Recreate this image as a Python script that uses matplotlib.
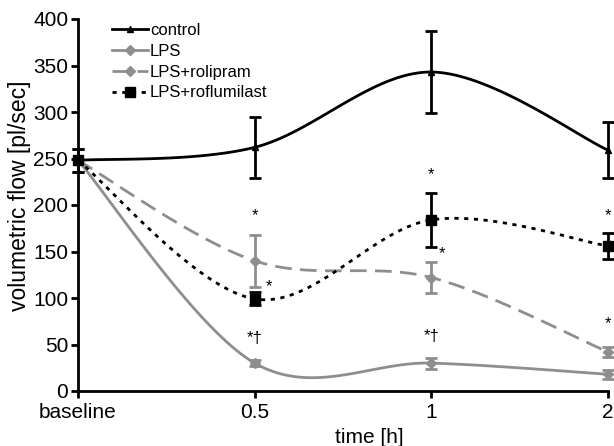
import numpy as np
import matplotlib
matplotlib.use('Agg')
import matplotlib.pyplot as plt

plt.rcParams['font.family'] = ['Liberation Sans', 'DejaVu Sans']

# data
time_labels = ['baseline', '0.5', '1', '2']
control = [248, 262, 343, 259]
control_err = [12, 33, 44, 30]
lps = [248, 30, 30, 18]
lps_err = [12, 3, 6, 5]
rolipram = [248, 140, 122, 42]
rolipram_err = [12, 28, 17, 5]
roflumilast = [248, 99, 184, 156]
roflumilast_err = [12, 7, 29, 14]

GRAY = '#8e8e8e'


# Excel-like smoothed line (bezier through the points)
def smooth(x, y, n=40):
    x = np.asarray(x, float)
    y = np.asarray(y, float)
    px = np.concatenate([[x[0]], x, [x[-1]]])
    py = np.concatenate([[y[0]], y, [y[-1]]])
    xs, ys = [], []
    t = np.linspace(0, 1, n)
    for i in range(1, len(px) - 2):
        p0 = np.array([px[i], py[i]])
        p3 = np.array([px[i + 1], py[i + 1]])
        p1 = p0 + (np.array([px[i + 1], py[i + 1]]) - np.array([px[i - 1], py[i - 1]])) / 6
        p2 = p3 - (np.array([px[i + 2], py[i + 2]]) - np.array([px[i], py[i]])) / 6
        b = ((1 - t) ** 3)[:, None] * p0 + (3 * (1 - t) ** 2 * t)[:, None] * p1 \
            + (3 * (1 - t) * t ** 2)[:, None] * p2 + (t ** 3)[:, None] * p3
        xs.extend(b[:, 0])
        ys.extend(b[:, 1])
    return xs, ys


fig = plt.figure(figsize=(6.14, 4.46), dpi=100)
ax = fig.add_axes([78 / 614, 55 / 446, 530 / 614, 372 / 446])

x = np.arange(len(time_labels))

series = [
    (control, control_err, 'k', '-', '^', 'control'),
    (lps, lps_err, GRAY, '-', 'D', 'LPS'),
    (rolipram, rolipram_err, GRAY, (0, (6, 3)), 'D', 'LPS+rolipram'),
    (roflumilast, roflumilast_err, 'k', (0, (1.5, 2)), 's', 'LPS+roflumilast'),
]

for vals, err, col, ls, mk, lab in series:
    sx, sy = smooth(x, vals)
    ax.plot(sx, sy, color=col, ls=ls, lw=2, clip_on=False)
    ms = 7 if mk == 's' else 5
    ax.errorbar(x, vals, yerr=err, fmt=mk, color=col, ms=ms, elinewidth=2,
                capsize=4, capthick=2, clip_on=False)
    ax.plot([], [], color=col, ls=ls, lw=2, marker=mk, ms=ms, label=lab)

# significance marks
marks = [
    (1, 180, '*'), (1.08, 104, '*'), (1, 48, '*†'),
    (2, 225, '*'), (2.06, 140, '*'), (2, 50, '*†'),
    (3, 180, '*'), (3, 64, '*'),
]
for mx, my, s in marks:
    ax.text(mx, my, s, ha='center', va='bottom', fontsize=12)

ax.set_xlim(0, 3)
ax.set_ylim(0, 400)
ax.set_yticks(range(0, 401, 50))
ax.set_xticks(x)
ax.set_xticklabels(time_labels)
ax.tick_params(labelsize=15, width=2, length=5)
ax.tick_params(axis='x', pad=4)
ax.tick_params(axis='y', pad=2)
ax.spines['top'].set_visible(False)
ax.spines['right'].set_visible(False)
ax.spines['left'].set_linewidth(2)
ax.spines['bottom'].set_linewidth(2)
ax.set_ylabel('volumetric flow [pl/sec]', fontsize=16.5)
ax.set_xlabel('time [h]', fontsize=15)
ax.yaxis.set_label_coords(-0.089, 0.524)
ax.xaxis.set_label_coords(0.549, -0.1)

ax.legend(loc='upper left', bbox_to_anchor=(0.035, 1.03), frameon=False,
          fontsize=12, handlelength=2.2, handletextpad=0.1, labelspacing=0.35)

fig.savefig('out.png', dpi=100)
